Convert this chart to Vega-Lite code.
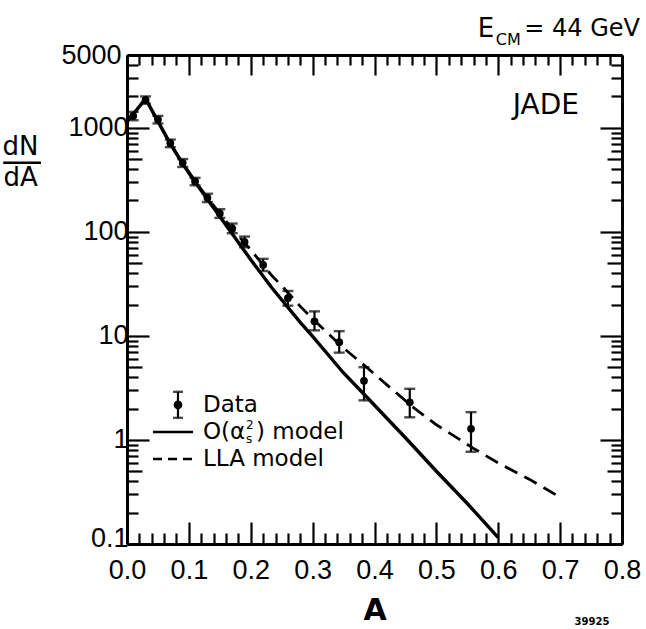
{
  "$schema": "https://vega.github.io/schema/vega-lite/v6.json",
  "width": 495,
  "height": 489,
  "autosize": {"type": "none"},
  "padding": {"left": 127, "top": 55, "right": 24, "bottom": 85},
  "background": "white",
  "config": {
    "view": {"stroke": null},
    "font": "DejaVu Sans",
    "axis": {
      "domainColor": "black",
      "domainWidth": 3,
      "tickColor": "black",
      "tickWidth": 2.2,
      "labelColor": "black",
      "labelFont": "Liberation Sans",
      "labelFontSize": 27,
      "grid": false,
      "title": null
    },
    "text": {"font": "DejaVu Sans", "color": "black"}
  },
  "datasets": {
    "events": [
      {"A": 0.01, "n": 1300, "lo": 1180, "hi": 1420},
      {"A": 0.03, "n": 1850, "lo": 1700, "hi": 2000},
      {"A": 0.05, "n": 1200, "lo": 1100, "hi": 1300},
      {"A": 0.07, "n": 710, "lo": 650, "hi": 770},
      {"A": 0.09, "n": 460, "lo": 420, "hi": 500},
      {"A": 0.11, "n": 305, "lo": 280, "hi": 330},
      {"A": 0.13, "n": 212, "lo": 193, "hi": 232},
      {"A": 0.15, "n": 150, "lo": 136, "hi": 165},
      {"A": 0.17, "n": 108, "lo": 97, "hi": 120},
      {"A": 0.19, "n": 80, "lo": 71, "hi": 90},
      {"A": 0.22, "n": 48, "lo": 42, "hi": 55},
      {"A": 0.26, "n": 23, "lo": 19.5, "hi": 27},
      {"A": 0.303, "n": 13.8, "lo": 11.3, "hi": 17.2},
      {"A": 0.343, "n": 8.7, "lo": 6.9, "hi": 11.1},
      {"A": 0.383, "n": 3.7, "lo": 2.4, "hi": 5.0},
      {"A": 0.457, "n": 2.3, "lo": 1.65, "hi": 3.1},
      {"A": 0.556, "n": 1.28, "lo": 0.77, "hi": 1.85}
    ],
    "models": [
      {"model": "O", "A": 0.0, "y": 1150},
      {"model": "O", "A": 0.01, "y": 1350},
      {"model": "O", "A": 0.02, "y": 1600},
      {"model": "O", "A": 0.03, "y": 1900},
      {"model": "O", "A": 0.05, "y": 1150},
      {"model": "O", "A": 0.07, "y": 700},
      {"model": "O", "A": 0.09, "y": 450},
      {"model": "O", "A": 0.11, "y": 300},
      {"model": "O", "A": 0.13, "y": 205},
      {"model": "O", "A": 0.15, "y": 140},
      {"model": "O", "A": 0.17, "y": 96},
      {"model": "O", "A": 0.2, "y": 54},
      {"model": "O", "A": 0.234, "y": 29},
      {"model": "O", "A": 0.28, "y": 13.5},
      {"model": "O", "A": 0.3, "y": 9.9},
      {"model": "O", "A": 0.35, "y": 4.4},
      {"model": "O", "A": 0.387, "y": 2.6},
      {"model": "O", "A": 0.45, "y": 1.05},
      {"model": "O", "A": 0.5, "y": 0.5},
      {"model": "O", "A": 0.55, "y": 0.245},
      {"model": "O", "A": 0.6, "y": 0.115},
      {"model": "LLA", "A": 0.0, "y": 1150},
      {"model": "LLA", "A": 0.01, "y": 1350},
      {"model": "LLA", "A": 0.02, "y": 1600},
      {"model": "LLA", "A": 0.03, "y": 1900},
      {"model": "LLA", "A": 0.05, "y": 1150},
      {"model": "LLA", "A": 0.07, "y": 705},
      {"model": "LLA", "A": 0.09, "y": 458},
      {"model": "LLA", "A": 0.11, "y": 308},
      {"model": "LLA", "A": 0.13, "y": 213},
      {"model": "LLA", "A": 0.15, "y": 150},
      {"model": "LLA", "A": 0.17, "y": 107},
      {"model": "LLA", "A": 0.2, "y": 67},
      {"model": "LLA", "A": 0.234, "y": 38},
      {"model": "LLA", "A": 0.253, "y": 29},
      {"model": "LLA", "A": 0.28, "y": 19.2},
      {"model": "LLA", "A": 0.3, "y": 14.6},
      {"model": "LLA", "A": 0.347, "y": 7.9},
      {"model": "LLA", "A": 0.387, "y": 5.0},
      {"model": "LLA", "A": 0.461, "y": 2.09},
      {"model": "LLA", "A": 0.5, "y": 1.4},
      {"model": "LLA", "A": 0.56, "y": 0.83},
      {"model": "LLA", "A": 0.6, "y": 0.6},
      {"model": "LLA", "A": 0.65, "y": 0.42},
      {"model": "LLA", "A": 0.694, "y": 0.295}
    ],
    "one": [{}]
  },
  "layer": [
    {
      "data": {"name": "models"},
      "transform": [{"filter": "datum.model == 'O'"}],
      "mark": {"type": "line", "color": "black", "strokeWidth": 3.4, "clip": true},
      "encoding": {
        "x": {
          "field": "A", "type": "quantitative",
          "scale": {"domain": [0, 0.8], "nice": false, "zero": false},
          "axis": {
            "orient": "bottom",
            "values": [0,0.02,0.04,0.06,0.08,0.1,0.12,0.14,0.16,0.18,0.2,0.22,0.24,0.26,0.28,0.3,0.32,0.34,0.36,0.38,0.4,0.42,0.44,0.46,0.48,0.5,0.52,0.54,0.56,0.58,0.6,0.62,0.64,0.66,0.68,0.7,0.72,0.74,0.76,0.78,0.8],
            "tickSize": {"condition": {"test": "abs(datum.value*10 - round(datum.value*10)) < 0.001", "value": -22}, "value": -11},
            "labelExpr": "abs(datum.value*10 - round(datum.value*10)) < 0.001 ? format(datum.value, '.1f') : ''",
            "labelPadding": 35,
            "labelFlush": false,
            "labelOverlap": false,
            "title": "A",
            "titleFont": "DejaVu Sans",
            "titleFontSize": 30,
            "titleFontWeight": "bold",
            "titleColor": "black",
            "titlePadding": 1
          }
        },
        "y": {
          "field": "y", "type": "quantitative",
          "scale": {"type": "log", "domain": [0.1, 5000], "nice": false},
          "axis": {
            "orient": "left",
            "values": [0.1,0.2,0.3,0.4,0.5,0.6,0.7,0.8,0.9,1,2,3,4,5,6,7,8,9,10,20,30,40,50,60,70,80,90,100,200,300,400,500,600,700,800,900,1000,2000,3000,4000,5000],
            "tickSize": {"condition": [
              {"test": "abs(log(datum.value)/LN10 - round(log(datum.value)/LN10)) < 0.001", "value": -22},
              {"test": "abs(log(datum.value/5)/LN10 - round(log(datum.value/5)/LN10)) < 0.001", "value": -15}
            ], "value": -11},
            "format": "~g",
            "labelExpr": "(abs(log(datum.value)/LN10 - round(log(datum.value)/LN10)) < 0.001 || datum.value == 5000) ? datum.label : ''",
            "labelOffset": {"condition": {"test": "datum.value < 0.15", "value": -6}, "value": 0},
            "labelPadding": 21,
            "labelFlush": false,
            "labelOverlap": false
          }
        }
      }
    },
    {
      "data": {"name": "models"},
      "transform": [{"filter": "datum.model == 'LLA'"}],
      "mark": {"type": "line", "color": "black", "strokeWidth": 2.8, "strokeDash": [14, 8], "clip": true},
      "encoding": {
        "x": {
          "field": "A", "type": "quantitative",
          "axis": {
            "orient": "top",
            "values": [0,0.02,0.04,0.06,0.08,0.1,0.12,0.14,0.16,0.18,0.2,0.22,0.24,0.26,0.28,0.3,0.32,0.34,0.36,0.38,0.4,0.42,0.44,0.46,0.48,0.5,0.52,0.54,0.56,0.58,0.6,0.62,0.64,0.66,0.68,0.7,0.72,0.74,0.76,0.78,0.8],
            "tickSize": {"condition": {"test": "abs(datum.value*10 - round(datum.value*10)) < 0.001", "value": -20}, "value": -10},
            "labels": false
          }
        },
        "y": {
          "field": "y", "type": "quantitative",
          "axis": {
            "orient": "right",
            "values": [0.1,0.2,0.3,0.4,0.5,0.6,0.7,0.8,0.9,1,2,3,4,5,6,7,8,9,10,20,30,40,50,60,70,80,90,100,200,300,400,500,600,700,800,900,1000,2000,3000,4000,5000],
            "tickSize": {"condition": [
              {"test": "abs(log(datum.value)/LN10 - round(log(datum.value)/LN10)) < 0.001", "value": -22},
              {"test": "abs(log(datum.value/5)/LN10 - round(log(datum.value/5)/LN10)) < 0.001", "value": -15}
            ], "value": -11},
            "labels": false
          }
        }
      }
    },
    {
      "data": {"name": "events"},
      "mark": {"type": "rule", "color": "black", "strokeWidth": 2.2},
      "encoding": {
        "x": {"field": "A", "type": "quantitative", "axis": null},
        "y": {"field": "lo", "type": "quantitative", "axis": null},
        "y2": {"field": "hi"}
      }
    },
    {
      "data": {"name": "events"},
      "mark": {"type": "tick", "color": "black", "orient": "horizontal", "size": 11, "thickness": 2.4},
      "encoding": {
        "x": {"field": "A", "type": "quantitative", "axis": null},
        "y": {"field": "lo", "type": "quantitative", "axis": null}
      }
    },
    {
      "data": {"name": "events"},
      "mark": {"type": "tick", "color": "black", "orient": "horizontal", "size": 11, "thickness": 2.4},
      "encoding": {
        "x": {"field": "A", "type": "quantitative", "axis": null},
        "y": {"field": "hi", "type": "quantitative", "axis": null}
      }
    },
    {
      "data": {"name": "events"},
      "mark": {"type": "point", "filled": true, "color": "black", "opacity": 1, "size": 60},
      "encoding": {
        "x": {"field": "A", "type": "quantitative", "axis": null},
        "y": {"field": "n", "type": "quantitative", "axis": null}
      }
    },
    {
      "data": {"name": "one"},
      "mark": {"type": "rule", "color": "black", "strokeWidth": 2.2},
      "encoding": {
        "x": {"datum": 0.0824, "type": "quantitative", "axis": null},
        "y": {"datum": 1.63, "type": "quantitative", "axis": null},
        "y2": {"datum": 2.9}
      }
    },
    {
      "data": {"name": "one"},
      "mark": {"type": "tick", "color": "black", "orient": "horizontal", "size": 10, "thickness": 2.4},
      "encoding": {
        "x": {"datum": 0.0824, "type": "quantitative", "axis": null},
        "y": {"datum": 1.63, "type": "quantitative", "axis": null}
      }
    },
    {
      "data": {"name": "one"},
      "mark": {"type": "tick", "color": "black", "orient": "horizontal", "size": 10, "thickness": 2.4},
      "encoding": {
        "x": {"datum": 0.0824, "type": "quantitative", "axis": null},
        "y": {"datum": 2.9, "type": "quantitative", "axis": null}
      }
    },
    {
      "data": {"name": "one"},
      "mark": {"type": "point", "filled": true, "color": "black", "opacity": 1, "size": 75},
      "encoding": {
        "x": {"datum": 0.0824, "type": "quantitative", "axis": null},
        "y": {"datum": 2.17, "type": "quantitative", "axis": null}
      }
    },
    {
      "data": {"name": "one"},
      "mark": {"type": "rule", "color": "black", "strokeWidth": 2.4},
      "encoding": {
        "x": {"datum": 0.042, "type": "quantitative", "axis": null},
        "x2": {"datum": 0.1067},
        "y": {"datum": 1.19, "type": "quantitative", "axis": null}
      }
    },
    {
      "data": {"name": "one"},
      "mark": {"type": "rule", "color": "black", "strokeWidth": 2.4, "strokeDash": [9, 6]},
      "encoding": {
        "x": {"datum": 0.042, "type": "quantitative", "axis": null},
        "x2": {"datum": 0.1067},
        "y": {"datum": 0.656, "type": "quantitative", "axis": null}
      }
    },
    {
      "data": {"name": "one"},
      "mark": {"type": "text", "fontSize": 23, "align": "left", "baseline": "middle", "text": "Data"},
      "encoding": {
        "x": {"datum": 0.1228, "type": "quantitative", "axis": null},
        "y": {"datum": 2.17, "type": "quantitative", "axis": null}
      }
    },
    {
      "data": {"name": "one"},
      "mark": {"type": "text", "fontSize": 23, "align": "left", "baseline": "middle", "text": "O(α"},
      "encoding": {
        "x": {"datum": 0.1228, "type": "quantitative", "axis": null},
        "y": {"datum": 1.19, "type": "quantitative", "axis": null}
      }
    },
    {
      "data": {"name": "one"},
      "mark": {"type": "text", "fontSize": 12, "align": "left", "baseline": "middle", "text": "2"},
      "encoding": {
        "x": {"datum": 0.1923, "type": "quantitative", "axis": null},
        "y": {"datum": 1.394, "type": "quantitative", "axis": null}
      }
    },
    {
      "data": {"name": "one"},
      "mark": {"type": "text", "fontSize": 12, "align": "left", "baseline": "middle", "text": "s"},
      "encoding": {
        "x": {"datum": 0.1923, "type": "quantitative", "axis": null},
        "y": {"datum": 1.023, "type": "quantitative", "axis": null}
      }
    },
    {
      "data": {"name": "one"},
      "mark": {"type": "text", "fontSize": 23, "align": "left", "baseline": "middle", "text": ") model"},
      "encoding": {
        "x": {"datum": 0.2085, "type": "quantitative", "axis": null},
        "y": {"datum": 1.19, "type": "quantitative", "axis": null}
      }
    },
    {
      "data": {"name": "one"},
      "mark": {"type": "text", "fontSize": 23, "align": "left", "baseline": "middle", "text": "LLA model"},
      "encoding": {
        "x": {"datum": 0.1228, "type": "quantitative", "axis": null},
        "y": {"datum": 0.656, "type": "quantitative", "axis": null}
      }
    },
    {
      "data": {"name": "one"},
      "mark": {"type": "text", "fontSize": 28, "align": "center", "baseline": "middle", "text": "JADE"},
      "encoding": {
        "x": {"datum": 0.677, "type": "quantitative", "axis": null},
        "y": {"datum": 1600, "type": "quantitative", "axis": null}
      }
    },
    {
      "data": {"name": "one"},
      "mark": {"type": "text", "fontSize": 26, "align": "left", "baseline": "middle", "text": "E"},
      "encoding": {
        "x": {"datum": 0.567, "type": "quantitative", "axis": null},
        "y": {"datum": 8830, "type": "quantitative", "axis": null}
      }
    },
    {
      "data": {"name": "one"},
      "mark": {"type": "text", "fontSize": 16, "align": "left", "baseline": "middle", "text": "CM"},
      "encoding": {
        "x": {"datum": 0.596, "type": "quantitative", "axis": null},
        "y": {"datum": 6900, "type": "quantitative", "axis": null}
      }
    },
    {
      "data": {"name": "one"},
      "mark": {"type": "text", "fontSize": 24, "align": "right", "baseline": "middle", "text": "= 44 GeV"},
      "encoding": {
        "x": {"datum": 0.829, "type": "quantitative", "axis": null},
        "y": {"datum": 8830, "type": "quantitative", "axis": null}
      }
    },
    {
      "data": {"name": "one"},
      "mark": {"type": "text", "fontSize": 26, "align": "center", "baseline": "middle", "text": "dN"},
      "encoding": {
        "x": {"datum": -0.172, "type": "quantitative", "axis": null},
        "y": {"datum": 659, "type": "quantitative", "axis": null}
      }
    },
    {
      "data": {"name": "one"},
      "mark": {"type": "rule", "color": "black", "strokeWidth": 2.6},
      "encoding": {
        "x": {"datum": -0.2, "type": "quantitative", "axis": null},
        "x2": {"datum": -0.139},
        "y": {"datum": 461, "type": "quantitative", "axis": null}
      }
    },
    {
      "data": {"name": "one"},
      "mark": {"type": "text", "fontSize": 26, "align": "center", "baseline": "middle", "text": "dA"},
      "encoding": {
        "x": {"datum": -0.172, "type": "quantitative", "axis": null},
        "y": {"datum": 330, "type": "quantitative", "axis": null}
      }
    },
    {
      "data": {"name": "one"},
      "mark": {"type": "text", "fontSize": 10, "fontWeight": "bold", "align": "center", "baseline": "middle", "text": "39925"},
      "encoding": {
        "x": {"datum": 0.7515, "type": "quantitative", "axis": null},
        "y": {"datum": 0.0177, "type": "quantitative", "axis": null}
      }
    }
  ],
  "resolve": {"axis": {"x": "independent", "y": "independent"}}
}
